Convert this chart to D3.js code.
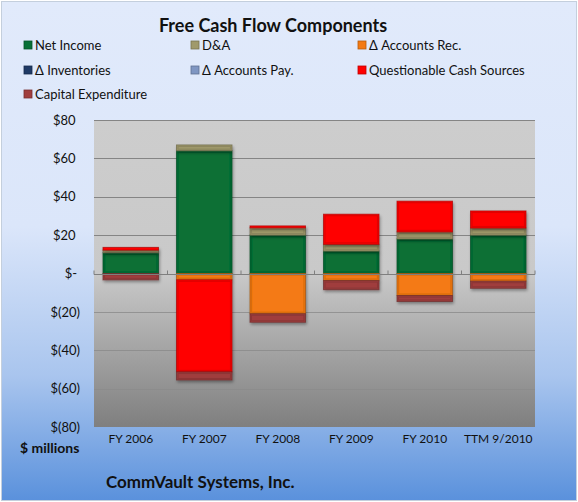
<!DOCTYPE html>
<html>
<head>
<meta charset="utf-8">
<script src="https://cdn.jsdelivr.net/npm/d3@7"></script>
<style>
  body { margin: 0; background: #fff; }
  svg { display: block; font-family: Lato, "Open Sans", sans-serif; }
</style>
</head>
<body>
<script>
// data, $ millions
var categories = ["FY 2006", "FY 2007", "FY 2008", "FY 2009", "FY 2010", "TTM 9/2010"];
var seriesNames = ["Net Income", "D&A", "\u0394 Accounts Rec.", "\u0394 Inventories",
    "\u0394 Accounts Pay.", "Questionable Cash Sources", "Capital Expenditure"];
var netIncome   = [10.8, 64, 20, 11.7, 18, 20];
var dna         = [1.4, 3, 3.8, 3.5, 3.7, 3.7];
var accountsRec = [0, -3.3, -21, -3.7, -11.5, -4];
var inventories = [0, 0, 0, 0, 0, 0];
var accountsPay = [0, 0, 0, 0, 0, 0];
var questionable = [1.4, -48, 1, 15.7, 16, 8.9];
var capex       = [-3.3, -4.2, -4.4, -4.7, -3.1, -3.7];
var yTicks = [-80, -60, -40, -20, 0, 20, 40, 60, 80];
var colors = ["#077036", "#a09a6b", "#f47a12", "#1f3a66", "#7f96c2", "#ff0000", "#a03e3e"];

var width = 578, height = 502;
var plot = { left: 94, right: 535, top: 120, bottom: 427 };

var svg = d3.select("body").append("svg")
    .attr("width", width)
    .attr("height", height);

var defs = svg.append("defs");
var bg = defs.append("linearGradient").attr("id", "bg")
    .attr("x1", 0).attr("y1", 0).attr("x2", 0).attr("y2", 1);
bg.append("stop").attr("offset", "0").attr("stop-color", "#e1eafb");
bg.append("stop").attr("offset", "0.45").attr("stop-color", "#dbe6fa");
bg.append("stop").attr("offset", "0.75").attr("stop-color", "#a9c5ee");
bg.append("stop").attr("offset", "1").attr("stop-color", "#5a91dc");

var pg = defs.append("linearGradient").attr("id", "plotbg")
    .attr("x1", 0).attr("y1", 0).attr("x2", 0).attr("y2", 1);
pg.append("stop").attr("offset", "0").attr("stop-color", "#cdcdcd");
pg.append("stop").attr("offset", "0.5").attr("stop-color", "#c9c9c9");
pg.append("stop").attr("offset", "1").attr("stop-color", "#7f7f7f");

var shadow = defs.append("filter").attr("id", "shadow")
    .attr("x", "-10%").attr("y", "-10%").attr("width", "130%").attr("height", "130%");
shadow.append("feDropShadow").attr("dx", 1).attr("dy", 2).attr("stdDeviation", 1.5)
    .attr("flood-color", "#000").attr("flood-opacity", 0.35);

svg.append("rect")
    .attr("x", 1.5).attr("y", 1.5)
    .attr("width", width - 3).attr("height", height - 3)
    .attr("fill", "url(#bg)")
    .attr("stroke", "#c4cfdd");

// title
svg.append("text")
    .attr("x", 273).attr("y", 32)
    .attr("text-anchor", "middle")
    .attr("font-size", "18px").attr("font-weight", "bold")
    .attr("fill", "#111")
    .text("Free Cash Flow Components");

// legend
var legendCols = [24, 191, 358];
var legendRows = [45, 70, 94];
var legend = svg.selectAll("g.legend")
    .data(seriesNames)
    .enter()
    .append("g")
    .attr("class", "legend")
    .attr("transform", function (d, i) {
        return "translate(" + legendCols[i % 3] + "," + legendRows[Math.floor(i / 3)] + ")";
    });
legend.append("rect")
    .attr("x", 0).attr("y", -4)
    .attr("width", 8).attr("height", 8)
    .attr("fill", function (d, i) { return colors[i]; })
    .attr("stroke", function (d, i) { return d3.color(colors[i]).darker(0.8); })
    .attr("stroke-width", 0.8);
legend.append("text")
    .attr("x", 11).attr("y", 4.5)
    .attr("font-size", "13px")
    .attr("fill", "#111")
    .text(function (d) { return d; });

// scales
var x = d3.scaleBand()
    .domain(categories)
    .range([plot.left, plot.right])
    .paddingInner(0.245)
    .paddingOuter(0.1225);

var y = d3.scaleLinear()
    .domain([-80, 80])
    .range([plot.bottom, plot.top]);

// plot area
svg.append("rect")
    .attr("x", plot.left).attr("y", plot.top)
    .attr("width", plot.right - plot.left).attr("height", plot.bottom - plot.top)
    .attr("fill", "url(#plotbg)");

svg.append("g")
    .selectAll("line")
    .data(yTicks.filter(function (t) { return t !== -80 && t !== 0; }))
    .enter()
    .append("line")
    .attr("x1", plot.left).attr("x2", plot.right)
    .attr("y1", function (d) { return Math.round(y(d)) + 0.5; })
    .attr("y2", function (d) { return Math.round(y(d)) + 0.5; })
    .attr("stroke", function (d) { return d > 0 ? "#858585" : "#8a8a8a"; })
    .attr("stroke-width", function (d) { return d > 0 ? 1.2 : 0.8; });

// y axis labels
function money(v) {
    if (v === 0) return "$-";
    if (v < 0) return "$(" + Math.abs(v) + ")";
    return "$" + v;
}
var yAxis = d3.axisLeft(y)
    .tickValues(yTicks)
    .tickFormat(money)
    .tickSize(0)
    .tickPadding(0);
var yg = svg.append("g")
    .attr("transform", "translate(80,0)")
    .call(yAxis);
yg.select(".domain").remove();
yg.selectAll("text")
    .attr("font-family", "Lato, 'Open Sans', sans-serif")
    .attr("font-size", "13px")
    .attr("fill", "#111")
    .attr("dx", function (d) { return d < 0 ? 0 : (d === 0 ? -3 : -4.5); });

// stacked bars
var rows = categories.map(function (c, i) {
    return {
        cat: c,
        s0: netIncome[i], s1: dna[i], s2: accountsRec[i], s3: inventories[i],
        s4: accountsPay[i], s5: questionable[i], s6: capex[i]
    };
});
var stack = d3.stack()
    .keys(["s0", "s1", "s2", "s3", "s4", "s5", "s6"])
    .offset(d3.stackOffsetDiverging);
var layers = stack(rows);

var layerG = svg.append("g")
    .selectAll("g")
    .data(layers)
    .enter()
    .append("g")
    .attr("filter", "url(#shadow)");

var segs = layerG.selectAll("g")
    .data(function (d, i) {
        return d.filter(function (p) { return p[1] !== p[0]; })
            .map(function (p) { return { p: p, c: colors[i] }; });
    })
    .enter()
    .append("g");

segs.append("rect")
    .attr("x", function (d) { return x(d.p.data.cat); })
    .attr("y", function (d) { return y(Math.max(d.p[0], d.p[1])); })
    .attr("width", x.bandwidth())
    .attr("height", function (d) { return Math.abs(y(d.p[0]) - y(d.p[1])); })
    .attr("fill", function (d) { return d.c; })
    .attr("stroke", function (d) { return d3.color(d.c).darker(1.1); })
    .attr("stroke-opacity", 0.7)
    .attr("stroke-width", 1);

// inner bevel
segs.append("rect")
    .attr("x", function (d) { return x(d.p.data.cat) + 1.5; })
    .attr("y", function (d) { return y(Math.max(d.p[0], d.p[1])) + 1.5; })
    .attr("width", x.bandwidth() - 3)
    .attr("height", function (d) { return Math.max(0, Math.abs(y(d.p[0]) - y(d.p[1])) - 3); })
    .attr("fill", "none")
    .attr("stroke", function (d) { return d3.color(d.c).darker(0.6); })
    .attr("stroke-opacity", 0.6)
    .attr("stroke-width", 1.2);

// x axis at zero
var xAxis = d3.axisBottom(x).tickSize(0).tickPadding(0);
var zeroY = Math.round(y(0)) + 0.5;
svg.append("line")
    .attr("x1", plot.left).attr("x2", plot.right)
    .attr("y1", zeroY).attr("y2", zeroY)
    .attr("stroke", "#7f7f7f").attr("stroke-width", 1.2);
var step = x.step();
svg.append("g")
    .selectAll("line")
    .data(d3.range(categories.length + 1))
    .enter()
    .append("line")
    .attr("x1", function (d) { return plot.left + d * (plot.right - plot.left) / categories.length; })
    .attr("x2", function (d) { return plot.left + d * (plot.right - plot.left) / categories.length; })
    .attr("y1", zeroY - 4).attr("y2", zeroY)
    .attr("stroke", "#7f7f7f");

var xg = svg.append("g")
    .attr("transform", "translate(0,434)")
    .call(xAxis);
xg.select(".domain").remove();
xg.selectAll("text")
    .attr("font-family", "Lato, 'Open Sans', sans-serif")
    .attr("font-size", "12px")
    .attr("fill", "#111");

svg.append("text")
    .attr("x", 20).attr("y", 453)
    .attr("font-size", "14px").attr("font-weight", "bold")
    .attr("fill", "#111")
    .text("$ millions");

svg.append("text")
    .attr("x", 106).attr("y", 488)
    .attr("font-size", "17px").attr("font-weight", "bold")
    .attr("fill", "#111")
    .text("CommVault Systems, Inc.");
</script>
</body>
</html>
